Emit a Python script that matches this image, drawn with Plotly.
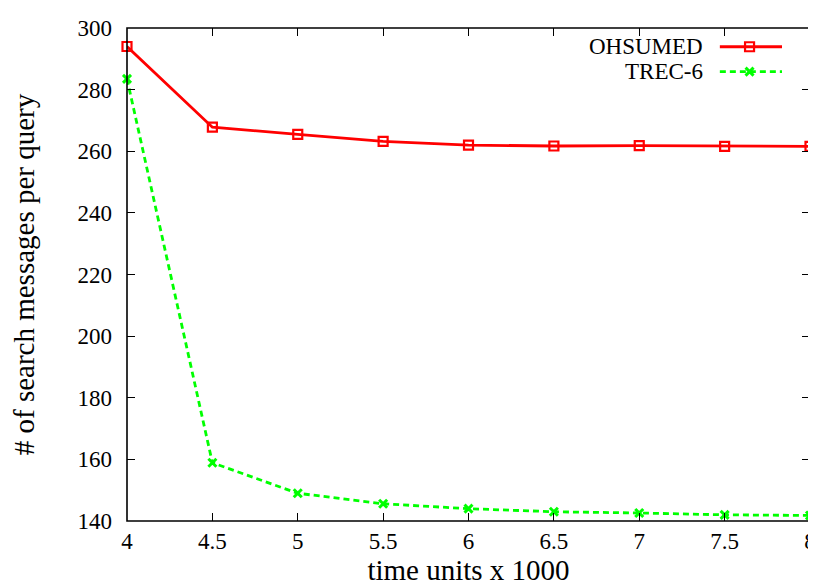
import plotly.graph_objects as go

x_vals = [4, 4.5, 5, 5.5, 6, 6.5, 7, 7.5, 8]
ohsumed = [294.0, 267.8, 265.5, 263.2, 262.0, 261.7, 261.8, 261.6, 261.6]
trec6 = [283.5, 158.9, 149.0, 145.6, 144.0, 143.0, 142.6, 142.0, 141.8]
series_names = ["OHSUMED", "TREC-6"]
x_ticks = [4, 4.5, 5, 5.5, 6, 6.5, 7, 7.5, 8]
y_ticks = [140, 160, 180, 200, 220, 240, 260, 280, 300]

RED = "#ff0000"
GREEN = "#00ff00"
FONT = "Liberation Serif, Times New Roman, serif"
TICK_SIZE = 23
TITLE_SIZE = 29

red_marker = dict(symbol="square-open", size=9, color=RED, line=dict(width=2.2, color=RED))
green_marker = dict(symbol="x-thin-open", size=8, color=GREEN, line=dict(width=3, color=GREEN))

fig = go.Figure()
fig.add_trace(go.Scatter(
    x=x_vals, y=ohsumed, mode="lines+markers", name=series_names[0],
    line=dict(color=RED, width=2.8), marker=red_marker,
    showlegend=False, cliponaxis=False))
fig.add_trace(go.Scatter(
    x=x_vals, y=trec6, mode="lines+markers", name=series_names[1],
    line=dict(color=GREEN, width=2.8, dash="6px,4px"), marker=green_marker,
    showlegend=False, cliponaxis=False))

# legend samples on an overlay axis (0..1 of the plot area)
leg_y = [0.962, 0.9115]
leg_x = [0.868, 0.959]
leg_mx = 0.9115
fig.add_trace(go.Scatter(x=leg_x, y=[leg_y[0]] * 2, mode="lines", xaxis="x2", yaxis="y2",
                         line=dict(color=RED, width=2.8), showlegend=False, hoverinfo="skip"))
fig.add_trace(go.Scatter(x=[leg_mx], y=[leg_y[0]], mode="markers", xaxis="x2", yaxis="y2",
                         marker=red_marker, showlegend=False, hoverinfo="skip"))
fig.add_trace(go.Scatter(x=leg_x, y=[leg_y[1]] * 2, mode="lines", xaxis="x2", yaxis="y2",
                         line=dict(color=GREEN, width=2.8, dash="6px,4px"), showlegend=False, hoverinfo="skip"))
fig.add_trace(go.Scatter(x=[leg_mx], y=[leg_y[1]], mode="markers", xaxis="x2", yaxis="y2",
                         marker=green_marker, showlegend=False, hoverinfo="skip"))
for name, yy in zip(series_names, leg_y):
    fig.add_annotation(x=0.846, y=yy, xref="x2", yref="y2", text=name, showarrow=False,
                       xanchor="right", yanchor="middle", font=dict(family=FONT, size=TICK_SIZE, color="black"))

axis_common = dict(showgrid=False, zeroline=False, ticks="inside", ticklen=8, tickwidth=1.2,
                   tickcolor="black", showline=False, mirror="allticks",
                   tickfont=dict(family=FONT, size=TICK_SIZE, color="black"))

fig.update_layout(
    width=816, height=588,
    font=dict(family=FONT, size=TICK_SIZE, color="black"),
    margin=dict(l=119, r=8, t=16, b=75),
    paper_bgcolor="white", plot_bgcolor="white",
    xaxis=dict(range=[4, 8], tickvals=x_ticks, ticktext=[str(v) for v in x_ticks],
               ticklabelstandoff=4,
               title=dict(text="time units x 1000", font=dict(family=FONT, size=TITLE_SIZE, color="black"), standoff=4),
               **axis_common),
    yaxis=dict(range=[140, 300], tickvals=y_ticks, ticktext=[str(v) for v in y_ticks], ticklabelstandoff=14,
               title=dict(text="# of search messages per query", font=dict(family=FONT, size=TITLE_SIZE, color="black"), standoff=36),
               **axis_common),
    xaxis2=dict(range=[0, 1], overlaying="x", visible=False, fixedrange=True),
    yaxis2=dict(range=[0, 1], overlaying="y", visible=False, fixedrange=True),
    shapes=[dict(type="rect", xref="paper", yref="paper", x0=0, y0=0, x1=1, y1=1,
                 line=dict(color="black", width=1.6), layer="above")],
)

fig.write_html("out.html")
